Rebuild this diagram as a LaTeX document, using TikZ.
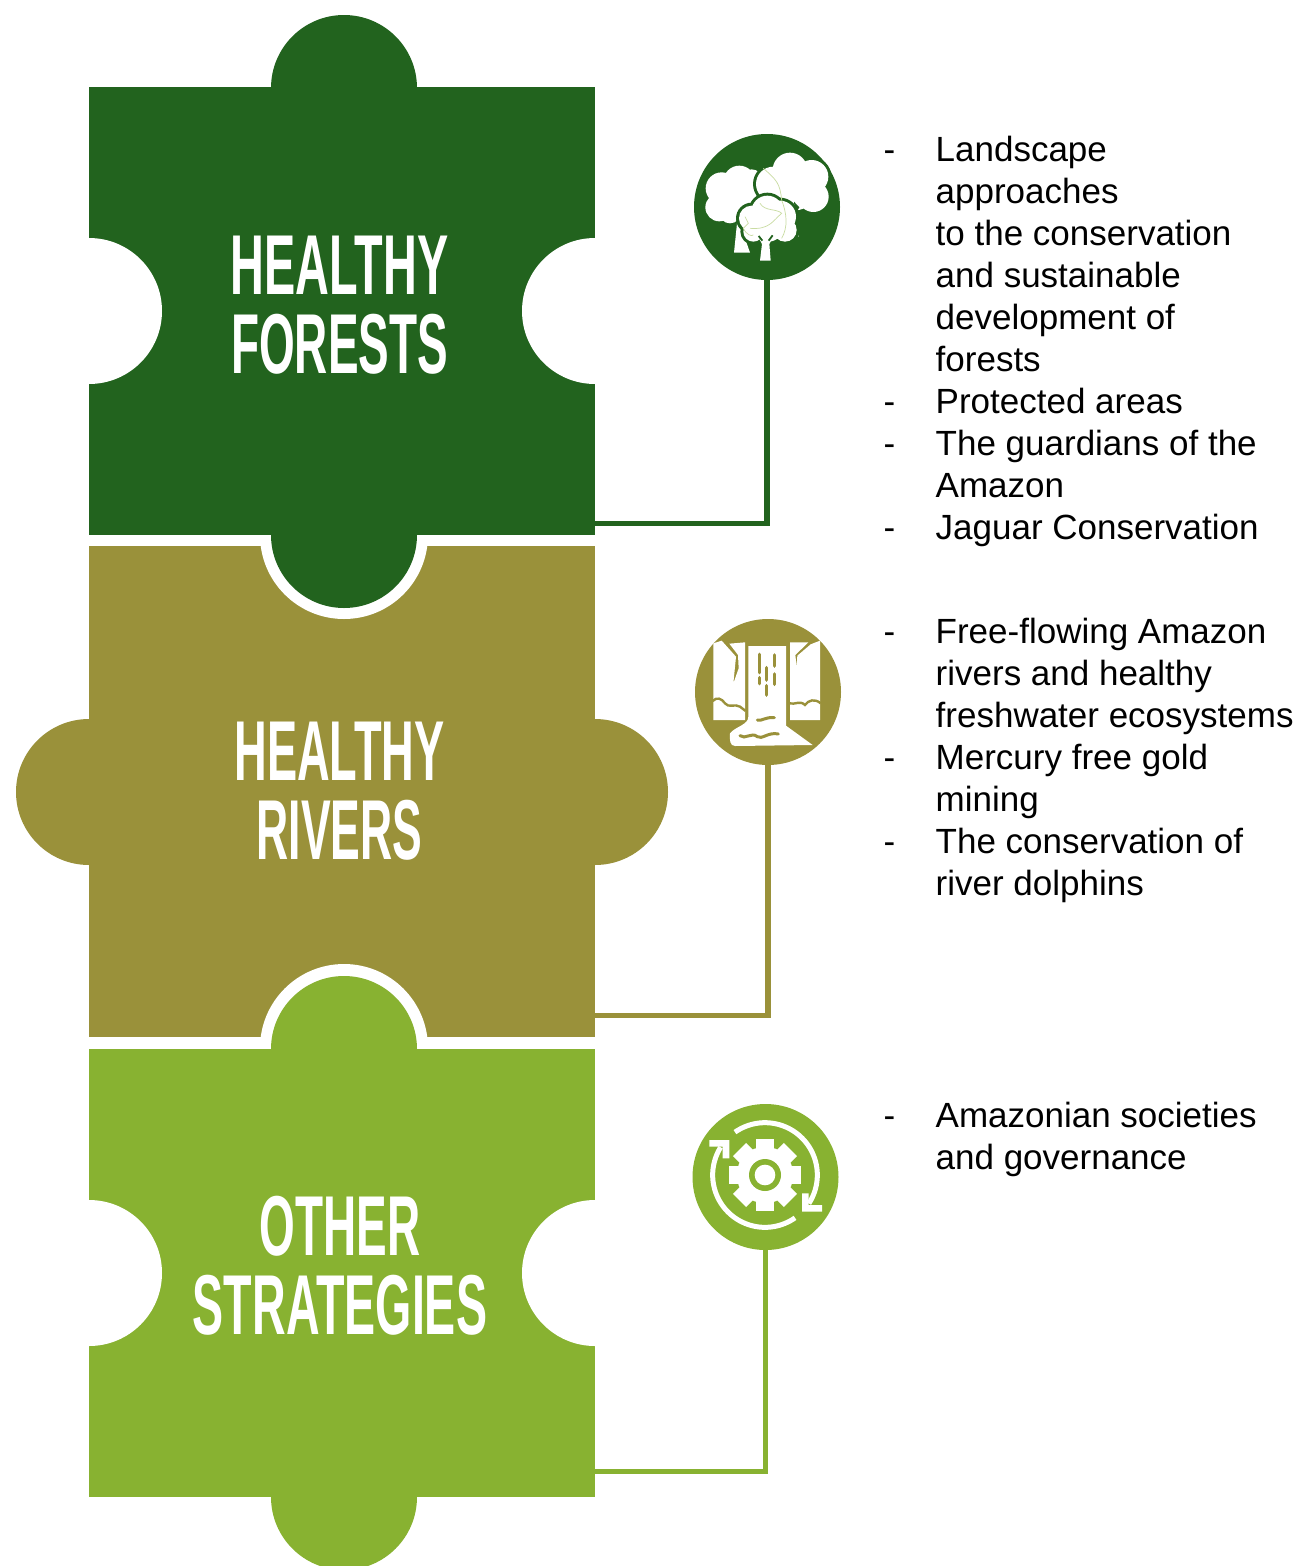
\documentclass[tikz,border=0pt]{standalone}
\usepackage{fontspec}
\setmainfont{Liberation Sans}
\newfontfamily\ttlfont[FakeStretch=0.54]{Liberation Sans}
\definecolor{cdark}{HTML}{22631E}
\definecolor{colive}{HTML}{9A913A}
\definecolor{clight}{HTML}{88B231}
\newcommand{\itm}[1]{\makebox[52pt][l]{-}#1}
\newcommand{\cnt}[1]{\hspace*{52pt}#1}
\newcommand{\ttlw}[2]{\scalebox{#1}[1]{#2}}
\tikzset{
 piecebox/.style={rectangle,inner sep=0pt,minimum width=506pt,minimum height=#1},
 icondisc/.style={circle,inner sep=0pt,minimum size=146pt},
 titletext/.style={text=white,align=center,font=\ttlfont\bfseries\fontsize{85}{79}\selectfont,inner sep=0pt},
 listtext/.style={anchor=north west,align=left,inner sep=0pt,font=\fontsize{35}{42}\selectfont},
 linkline/.style={line width=5.5pt},
 iconscope/.style={x=0.33333pt,y=-0.33333pt}
}
\begin{document}
\begin{tikzpicture}[x=1pt,y=-1pt]
\clip (0,0) rectangle (1302,1566);
% piece 3
\node[piecebox=448pt,fill=clight] (p3) at (342,1273) {};
\fill[clight] (344,1049) circle (73pt) (344,1497) circle (73pt);
\fill[white] (89,1273) circle (73pt) (595,1273) circle (73pt);
\fill[white] (89,1037) rectangle (595,1049);
% piece 2
\begin{scope}
\clip (0,546) rectangle (1302,1037);
\node[piecebox=491pt,fill=colive] (p2) at (342,791.5) {};
\fill[white] (344,535) circle (84pt) (344,1048) circle (84pt);
\end{scope}
\fill[colive] (89,792) circle (73pt) (595,792) circle (73pt);
\fill[clight] (344,1049) circle (73pt);
% piece 1
\node[piecebox=448pt,fill=cdark] (p1) at (342,311) {};
\fill[cdark] (344,88) circle (73pt) (344,535) circle (73pt);
\fill[white] (89,311) circle (73pt) (595,311) circle (73pt);
% titles
\node[titletext] (t1) at (339.5,305) {\ttlw{1.02}{HEALTHY}\\FORESTS};
\node[titletext] (t2) at (339.5,791) {\ttlw{.985}{HEALTHY}\\\ttlw{.97}{RIVERS}};
\node[titletext] (t3) at (340,1266) {OTHER\\\ttlw{1.015}{STRATEGIES}};
% discs
\node[icondisc,fill=cdark] (i1) at (767,207) {};
\node[icondisc,fill=colive] (i2) at (768,692) {};
\node[icondisc,fill=clight] (i3) at (765.5,1177) {};
% connector ends
\coordinate (c1) at (595,523.5);
\coordinate (c2) at (595,1015.5);
\coordinate (c3) at (595,1471.5);
\draw[linkline,cdark] (i1.south) |- (c1);
\draw[linkline,colive] (i2.south) |- (c2);
\draw[linkline,clight] (i3.south) |- (c3);
% tree icon
\begin{scope}[shift={(680,120)},iconscope]
 \fill[white] (172,300)--(162,398)--(210,398)--(188,335)--(205,290)--cycle;
 \fill[white] (335,250)--(330,350)--(356,350)--(350,250)--cycle;
 \fill[white] (178,185) circle (48) (125,205) circle (48) (118,262) circle (42) (150,278) circle (32) (160,230) circle (70) (215,180) circle (32);
 \foreach \p/\r in {{(330,150)}/52,{(395,170)}/50,{(280,192)}/52,{(345,210)}/62,{(400,230)}/46} {\fill[cdark] \p circle ({\r+9});}
 \fill[white] (330,150) circle (52) (395,170) circle (50) (280,192) circle (52) (345,205) circle (66) (400,230) circle (46);
 \fill[cdark] (342,245)--(358,262)--(346,282)--cycle;
 \foreach \p/\r in {{(262,275)}/48,{(215,295)}/38,{(300,290)}/48,{(315,330)}/35,{(220,335)}/30,{(265,320)}/45} {\fill[cdark] \p circle ({\r+9});}
 \fill[white] (262,275) circle (48) (215,295) circle (38) (300,290) circle (48) (315,330) circle (35) (220,335) circle (30) (265,320) circle (45);
 \fill[white] (234,350)--(246,372)--(240,422)--(272,422)--(268,372)--(280,350)--cycle;
 \draw[cdark,line width=1.8pt] (236,348)--(247,362) (278,346)--(266,362);
 \begin{scope}[draw=clight!45,line width=.7pt]
  \draw (250,145) .. controls (290,180) and (300,190) .. (305,240) .. controls (320,280) and (325,320) .. (305,355);
  \draw (240,250) .. controls (255,275) and (290,265) .. (305,280) .. controls (280,300) and (270,330) .. (210,325);
  \draw (195,290) -- (205,310) -- (190,325) .. controls (200,345) and (215,350) .. (220,345);
 \end{scope}
\end{scope}
% waterfall icon
\begin{scope}[shift={(680,605)},iconscope]
 \fill[white] (100,115)--(125,107)--(168,155)--(160,235)--(176,190)--(174,150)--(148,116)--(195,112)--(195,345)--(100,345)--cycle;
 \fill[white] (420,107)--(392,118)--(352,152)--(350,185)--(346,150)--(385,112)--(330,112)--(330,345)--(420,345)--cycle;
 \fill[white] (205,123)--(318,123)--(318,362)--(398,420)--(165,423) .. controls (150,423) and (148,405) .. (150,385) .. controls (165,365) and (205,360) .. (205,335)--cycle;
 \draw[colive,line width=2.4pt] (98,288) .. controls (110,275) and (125,280) .. (135,295) .. controls (145,310) and (165,295) .. (180,305) -- (197,318);
 \draw[colive,line width=2.4pt] (328,295) .. controls (345,300) and (360,285) .. (375,300) .. controls (385,285) and (405,280) .. (422,295);
 \draw[colive,line width=3.6pt,line cap=round] (238,148)--(238,203) (283,150)--(283,183) (260,188)--(260,225) (283,207)--(283,238) (238,218)--(238,236) (260,242)--(260,270);
 \draw[colive,line width=3pt,line cap=round] (232,345) .. controls (245,350) and (255,335) .. (283,338);
 \draw[colive,line width=3pt,line cap=round] (180,392) .. controls (195,405) and (215,380) .. (232,395) .. controls (245,405) and (265,380) .. (295,387);
\end{scope}
% gear icon
\begin{scope}[shift={(680,1090)},iconscope]
 \fill[white] (255,255) circle (85);
 \foreach \a in {0,45,...,315} {
  \fill[white,rotate around={\a:(255,255)}] (227,147) rectangle (283,200);
 }
 \fill[clight] (255,255) circle (48);
 \fill[white] (255,255) circle (31);
 \draw[white,line width=5pt] plot[domain=-125:33,samples=50] ({255+157*cos(\x)},{255+157*sin(\x)});
 \draw[white,line width=5pt] plot[domain=55:212,samples=50] ({255+157*cos(\x)},{255+157*sin(\x)});
 \fill[white] (366,310)--(386,310)--(386,345)--(426,345)--(426,365)--(366,365)--cycle;
 \fill[white] (88,150)--(148,150)--(148,205)--(128,205)--(128,170)--(88,170)--cycle;
\end{scope}
% lists
\node[listtext] (l1) at (883.5,135.5) {\itm{Landscape}\\\cnt{approaches}\\\cnt{to the conservation}\\\cnt{and sustainable}\\\cnt{development of}\\\cnt{forests}\\\itm{Protected areas}\\\itm{The guardians of the}\\\cnt{Amazon}\\\itm{Jaguar Conservation}};
\node[listtext] (l2) at (883.5,617.5) {\itm{Free-flowing Amazon}\\\cnt{rivers and healthy}\\\cnt{freshwater ecosystems}\\\itm{Mercury free gold}\\\cnt{mining}\\\itm{The conservation of}\\\cnt{river dolphins}};
\node[listtext] (l3) at (883.5,1101.5) {\itm{Amazonian societies}\\\cnt{and governance}};
\end{tikzpicture}
\end{document}
